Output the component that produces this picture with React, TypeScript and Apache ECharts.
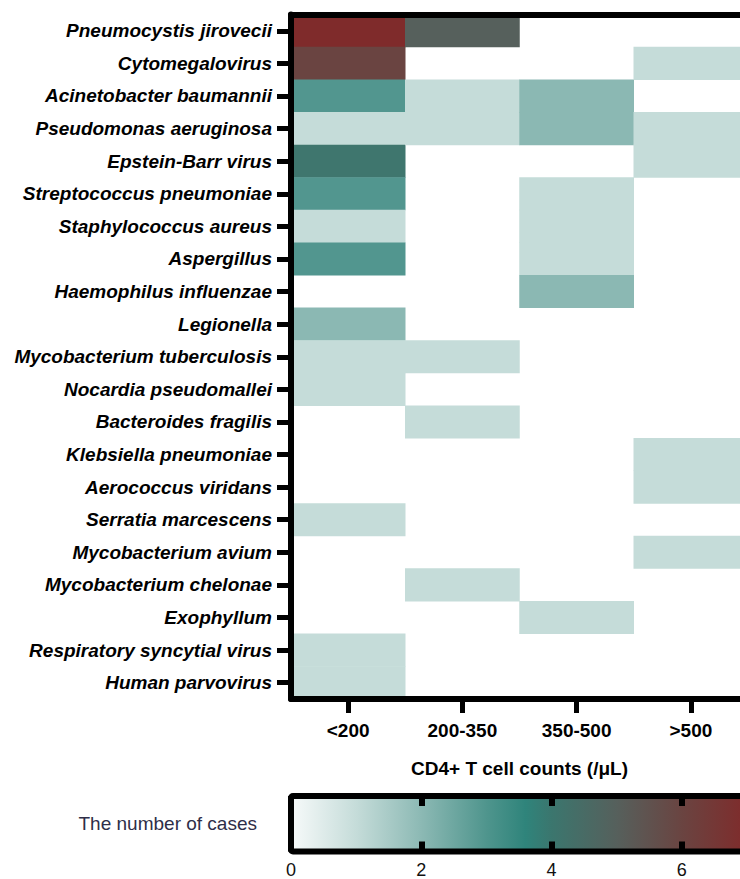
import React, { useEffect, useRef } from "react";
import * as echarts from "echarts";

const cd4Groups = ["<200", "200-350", "350-500", ">500"];
const pathogens = [
  "Pneumocystis jirovecii",
  "Cytomegalovirus",
  "Acinetobacter baumannii",
  "Pseudomonas aeruginosa",
  "Epstein-Barr virus",
  "Streptococcus pneumoniae",
  "Staphylococcus aureus",
  "Aspergillus",
  "Haemophilus influenzae",
  "Legionella",
  "Mycobacterium tuberculosis",
  "Nocardia pseudomallei",
  "Bacteroides fragilis",
  "Klebsiella pneumoniae",
  "Aerococcus viridans",
  "Serratia marcescens",
  "Mycobacterium avium",
  "Mycobacterium chelonae",
  "Exophyllum",
  "Respiratory syncytial virus",
  "Human parvovirus",
];
const casesLt200 = [7, 6, 3, 1, 4, 3, 1, 3, 0, 2, 1, 1, 0, 0, 0, 1, 0, 0, 0, 1, 1];
const cases200to350 = [5, 0, 1, 1, 0, 0, 0, 0, 0, 0, 1, 0, 1, 0, 0, 0, 0, 1, 0, 0, 0];
const cases350to500 = [0, 0, 2, 2, 0, 1, 1, 1, 2, 0, 0, 0, 0, 0, 0, 0, 0, 0, 1, 0, 0];
const casesGt500 = [0, 1, 0, 1, 1, 0, 0, 0, 0, 0, 0, 0, 0, 1, 1, 0, 1, 0, 0, 0, 0];
const scaleMin = 0;
const scaleMax = 7;
const scaleInterval = 2;
const scaleColors = ["#ffffff", "#c5dcd9", "#8bb8b3", "#52968f", "#3f766e", "#56605c", "#6a4441", "#7f2b2b"];
const colorbarStopValues = [0, 1, 2, 3, 3.6, 4, 5, 6, 7];
const colorbarStopColors = ["#f7fafa", "#c5dcd9", "#8cb9b4", "#4f958d", "#2f847b", "#3b766e", "#56605c", "#6a4441", "#7f2b2b"];
const legendLabel = "The number of cases";
const xTitle = "CD4+ T cell counts (/μL)";

const FONT = "'Liberation Sans', Arial, sans-serif";

export default function App() {
  const ref = useRef<HTMLDivElement>(null);
  useEffect(() => {
    if (!ref.current) return;
    const chart = echarts.init(ref.current, undefined, { renderer: "svg" });
    const columns = [casesLt200, cases200to350, cases350to500, casesGt500];
    const data: any[] = [];
    columns.forEach((col, xi) => {
      col.forEach((v, yi) => {
        if (v > 0) data.push([xi, yi, v]);
      });
    });
    const stops = colorbarStopValues.map((v, i) => ({
      offset: (v - scaleMin) / (scaleMax - scaleMin),
      color: colorbarStopColors[i],
    }));

    const option: any = {
      animation: false,
      backgroundColor: "#ffffff",
      textStyle: { fontFamily: FONT },
      grid: [
        { left: 291, top: 14.5, width: 457, height: 684.5, outerBoundsMode: "none", containLabel: false },
        { left: 291, top: 796, width: 456, height: 55.5, outerBoundsMode: "none", containLabel: false },
      ],
      visualMap: {
        show: false,
        type: "continuous",
        min: scaleMin,
        max: scaleMax,
        dimension: 2,
        seriesIndex: 0,
        inRange: { color: scaleColors },
      },
      xAxis: [
        {
          type: "category",
          gridIndex: 0,
          data: cd4Groups,
          position: "bottom",
          z: 10,
          axisLine: { show: true, lineStyle: { color: "#000", width: 6 } },
          axisTick: { show: true, alignWithLabel: true, length: 14, lineStyle: { color: "#000", width: 5 } },
          axisLabel: { margin: 22, color: "#000", fontSize: 19, fontWeight: "bold", fontFamily: FONT },
          splitLine: { show: false },
          name: xTitle,
          nameLocation: "middle",
          nameGap: 60,
          nameTextStyle: { color: "#000", fontSize: 19, fontWeight: "bold", fontFamily: FONT },
        },
        {
          type: "category",
          gridIndex: 0,
          data: cd4Groups,
          position: "top",
          z: 10,
          axisLine: { show: true, lineStyle: { color: "#000", width: 6 } },
          axisTick: { show: false },
          axisLabel: { show: false },
          splitLine: { show: false },
        },
        {
          type: "value",
          gridIndex: 1,
          min: scaleMin,
          max: scaleMax,
          interval: scaleInterval,
          position: "bottom",
          z: 10,
          axisLine: { show: false },
          axisTick: { show: true, inside: true, length: 10, lineStyle: { color: "#000", width: 6 } },
          axisLabel: { margin: 9, color: "#111", fontSize: 18, fontFamily: FONT, showMaxLabel: false },
          splitLine: { show: false },
        },
        {
          type: "value",
          gridIndex: 1,
          min: scaleMin,
          max: scaleMax,
          interval: scaleInterval,
          position: "top",
          z: 10,
          axisLine: { show: false },
          axisTick: { show: true, inside: true, length: 10, lineStyle: { color: "#000", width: 6 } },
          axisLabel: { show: false },
          splitLine: { show: false },
        },
      ],
      yAxis: [
        {
          type: "category",
          gridIndex: 0,
          data: pathogens,
          inverse: true,
          z: 10,
          axisLine: { show: true, lineStyle: { color: "#000", width: 6 } },
          axisTick: { show: true, alignWithLabel: true, length: 14, lineStyle: { color: "#000", width: 5 } },
          axisLabel: {
            margin: 19,
            color: "#000",
            fontSize: 19,
            fontWeight: "bold",
            fontStyle: "italic",
            fontFamily: FONT,
          },
          splitLine: { show: false },
        },
        {
          type: "category",
          gridIndex: 1,
          data: [legendLabel],
          axisLine: { show: false },
          axisTick: { show: false },
          axisLabel: { margin: 34, color: "#2e2e48", fontSize: 19, fontFamily: FONT },
          splitLine: { show: false },
        },
      ],
      series: [
        {
          type: "heatmap",
          xAxisIndex: 0,
          yAxisIndex: 0,
          data,
          itemStyle: { borderWidth: 0 },
          emphasis: { disabled: true },
        },
        {
          type: "custom",
          xAxisIndex: 2,
          yAxisIndex: 1,
          z: 3,
          data: [[scaleMin, 0]],
          renderItem: (params: any) => {
            const cs = params.coordSys;
            return {
              type: "group",
              children: [
                {
                  type: "rect",
                  shape: { x: cs.x, y: cs.y, width: cs.width, height: cs.height },
                  style: { fill: new echarts.graphic.LinearGradient(0, 0, 1, 0, stops) },
                },
                {
                  type: "rect",
                  shape: { x: cs.x, y: cs.y, width: cs.width, height: cs.height, r: 2 },
                  style: { fill: "none", stroke: "#000", lineWidth: 6 },
                },
              ],
            };
          },
        },
      ],
    };
    chart.setOption(option);
    return () => chart.dispose();
  }, []);
  return (
    <div
      ref={ref}
      style={{ position: "fixed", left: 0, top: 0, width: 740, height: 879, background: "#fff" }}
    />
  );
}
